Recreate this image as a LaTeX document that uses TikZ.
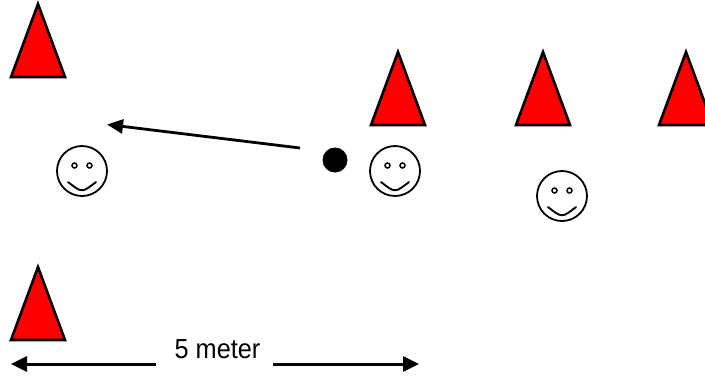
\documentclass[tikz,border=0pt]{standalone}
\usepackage{fontspec}
\setmainfont{Liberation Sans}
\usetikzlibrary{arrows.meta}

\tikzset{
  cone/.pic={
    \draw[fill=red, line width=2.6pt, line join=miter]
      (0,-37) -- (27,36) -- (-27,36) -- cycle;
  },
  smiley/.pic={
    \draw[line width=1.8pt] (0,0) circle (25);
    \draw[line width=1.5pt] (-7.5,-5.5) circle (2.5) (7.5,-5.5) circle (2.5);
    \draw[line width=1.9pt, line cap=round] (-14,11) .. controls (0,22) .. (14,11);
  },
  passline/.style={line width=2.8pt, -{Triangle[length=16pt,width=14pt]}},
  dimline/.style={line width=3pt, -{Triangle[length=16pt,width=15pt]}},
  label/.style={font=\fontsize{27.5}{32}\selectfont, inner sep=0pt, xscale=0.92}
}

\begin{document}
\begin{tikzpicture}[x=1pt, y=-1pt]
  \useasboundingbox (0,0) rectangle (705,376);
  \clip (0,0) rectangle (705,376);

  % cones
  \pic at (38,41)  {cone};
  \pic at (38,304) {cone};
  \pic at (398,89) {cone};
  \pic at (543,89) {cone};
  \pic at (686,89) {cone};

  % players
  \pic at (82,171)  {smiley};
  \pic at (395,171) {smiley};
  \pic at (562,196) {smiley};

  % ball and pass
  \node[circle, fill=black, minimum size=25pt, inner sep=0pt] (ball) at (335,160) {};
  \coordinate (passfrom) at (300,148);
  \coordinate (passto) at (107,124.5);
  \draw[passline] (passfrom) -- (passto);

  % distance marker
  \node[label, anchor=base] (dist) at (217.5,358) {5 meter};
  \coordinate (dimleft) at (11,364);
  \coordinate (dimright) at (419,364);
  \coordinate (dimleftend) at (156,364);
  \coordinate (dimrightstart) at (273,364);
  \draw[dimline] (dimleftend) -- (dimleft);
  \draw[dimline] (dimrightstart) -- (dimright);
\end{tikzpicture}
\end{document}
